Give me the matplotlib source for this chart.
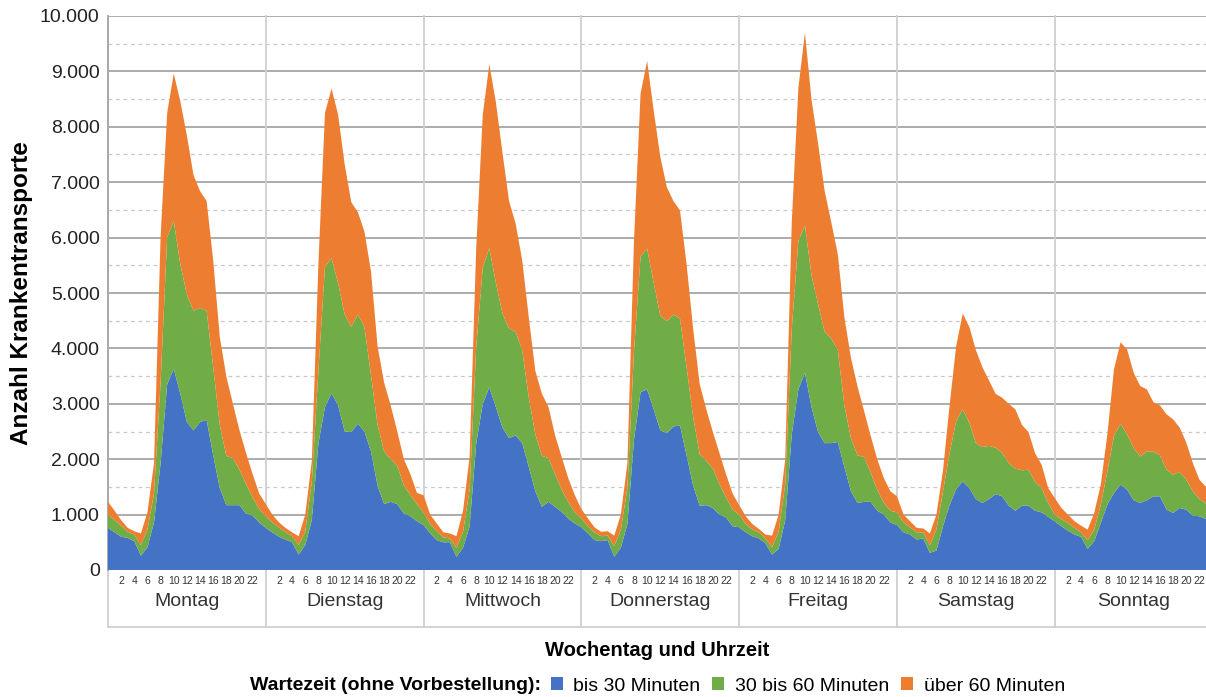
import matplotlib
matplotlib.use("Agg")
import matplotlib.pyplot as plt
import matplotlib.transforms as mtransforms
from matplotlib.patches import Patch
import numpy as np

plt.rcParams['font.family'] = ['Liberation Sans', 'DejaVu Sans']

# Wochentage und Stunden
tage = ['Montag', 'Dienstag', 'Mittwoch', 'Donnerstag', 'Freitag', 'Samstag', 'Sonntag']
stunden_labels = [str(h) for h in range(2, 23, 2)]

# Wartezeit bis 30 Minuten (je Tag 24 Stundenwerte)
bis_30 = [
    760, 680, 600, 580, 520, 260, 410, 860, 1930, 3350, 3630, 3180, 2670, 2520, 2670, 2710, 2070, 1480, 1170, 1170, 1170, 1020, 980, 860,
    760, 680, 600, 550, 500, 280, 450, 900, 2280, 2940, 3190, 2970, 2500, 2490, 2640, 2500, 2140, 1520, 1190, 1230, 1190, 1020, 970, 880,
    810, 660, 540, 500, 500, 240, 400, 790, 2280, 3000, 3300, 2940, 2570, 2380, 2430, 2290, 1860, 1420, 1140, 1230, 1140, 1050, 930, 840,
    770, 660, 540, 520, 540, 240, 400, 830, 2350, 3210, 3260, 2900, 2520, 2470, 2590, 2610, 2070, 1520, 1160, 1170, 1120, 1000, 950, 790,
    770, 680, 610, 570, 480, 280, 380, 900, 2450, 3260, 3560, 2940, 2490, 2290, 2290, 2310, 1860, 1420, 1210, 1230, 1230, 1070, 1000, 860,
    810, 680, 640, 550, 570, 310, 350, 790, 1170, 1460, 1600, 1480, 1280, 1210, 1280, 1370, 1330, 1160, 1070, 1160, 1160, 1070, 1040, 960,
    880, 790, 710, 640, 600, 380, 520, 850, 1180, 1390, 1540, 1450, 1260, 1210, 1260, 1330, 1330, 1090, 1030, 1120, 1090, 980, 970, 920,
]

# Wartezeit 30 bis 60 Minuten
bis_60 = [
    240, 220, 200, 110, 120, 190, 320, 520, 1450, 2660, 2670, 2340, 2300, 2160, 2060, 1970, 1590, 1140, 890, 850, 640, 530, 330, 240,
    210, 180, 170, 130, 110, 170, 240, 690, 1310, 2530, 2440, 2210, 2110, 1900, 1970, 1890, 1380, 1100, 950, 770, 690, 510, 380, 310,
    230, 170, 160, 90, 70, 160, 290, 660, 1730, 2460, 2510, 2240, 2060, 1980, 1870, 1680, 1250, 1030, 920, 790, 590, 400, 300, 200,
    160, 130, 140, 90, 80, 190, 330, 650, 1590, 2450, 2540, 2280, 2070, 2020, 2020, 1930, 1590, 1240, 930, 800, 710, 550, 360, 300,
    230, 150, 120, 110, 90, 130, 310, 650, 1900, 2680, 2660, 2380, 2310, 2010, 1890, 1660, 1110, 960, 860, 810, 530, 380, 210, 210,
    230, 180, 130, 130, 110, 140, 380, 630, 940, 1230, 1300, 1180, 1010, 1010, 960, 840, 780, 770, 760, 640, 650, 520, 440, 250,
    120, 130, 140, 120, 80, 160, 210, 330, 600, 1030, 1100, 1000, 940, 840, 880, 810, 740, 720, 690, 650, 540, 440, 310, 280,
]

# Wartezeit über 60 Minuten
ueber_60 = [
    230, 170, 100, 70, 60, 210, 310, 550, 2630, 2240, 2660, 2940, 2870, 2450, 2110, 1980, 1930, 1590, 1430, 980, 710, 560, 420, 280,
    220, 140, 90, 80, 70, 160, 310, 380, 1930, 2780, 3060, 3040, 2710, 2250, 1850, 1720, 1870, 1420, 1240, 970, 620, 470, 380, 200,
    310, 170, 140, 90, 90, 210, 380, 590, 1790, 2760, 3320, 3260, 2900, 2300, 1950, 1620, 1450, 1140, 1120, 920, 700, 590, 430, 310,
    170, 140, 90, 80, 80, 190, 270, 450, 2000, 2940, 3390, 3110, 2870, 2420, 2050, 1950, 1860, 1590, 1260, 930, 660, 560, 420, 290,
    170, 140, 100, 60, 70, 210, 310, 450, 1930, 2760, 3480, 3170, 2900, 2540, 2100, 1730, 1590, 1450, 1240, 830, 660, 550, 450, 350,
    290, 140, 110, 80, 70, 210, 270, 380, 860, 1350, 1730, 1730, 1680, 1440, 1180, 970, 1000, 1070, 1070, 820, 680, 520, 420, 270,
    300, 200, 150, 120, 120, 190, 300, 360, 670, 1200, 1470, 1530, 1360, 1270, 1120, 890, 900, 1000, 1000, 800, 670, 510, 350, 300,
]

serien_namen = ['bis 30 Minuten', '30 bis 60 Minuten', 'über 60 Minuten']
farben = ['#4472C4', '#70AD47', '#ED7D31']

x = np.arange(len(bis_30))

fig = plt.figure(figsize=(12.06, 6.97), dpi=100)
ax = fig.add_axes([108 / 1206, 1 - 570 / 697, 1098 / 1206, 554 / 697])

ax.stackplot(x, bis_30, bis_60, ueber_60, colors=farben, linewidth=0, zorder=3)

ax.set_xlim(0, len(x) - 1)
ax.set_ylim(0, 10000)

# Gitterlinien
ax.set_yticks(np.arange(0, 10001, 1000))
ax.set_yticks(np.arange(500, 10000, 1000), minor=True)
ax.set_yticklabels([f'{v:,}'.replace(',', '.') for v in range(0, 10001, 1000)], fontsize=14, color='#222222')
ax.tick_params(axis='y', which='both', length=0, pad=6)
ax.grid(axis='y', which='major', color='#A6A6A6', linewidth=1.3, zorder=1)
ax.grid(axis='y', which='minor', color='#C8C8C8', linewidth=0.9, linestyle=(0, (3, 3)), zorder=1)

for s in ['top', 'right', 'bottom']:
    ax.spines[s].set_visible(False)
ax.spines['left'].set_color('#A6A6A6')
ax.spines['left'].set_linewidth(1.3)

# Stunden-Ticks je Tag
tick_pos = []
tick_lab = []
for d in range(len(tage)):
    for h in range(2, 23, 2):
        tick_pos.append(d * 24 + h)
        tick_lab.append(str(h))
ax.set_xticks(tick_pos)
ax.set_xticklabels(tick_lab, fontsize=7.5, color='#333333')
ax.tick_params(axis='x', length=0, pad=4)

# Trennlinien und Tagesnamen
trans = mtransforms.blended_transform_factory(ax.transData, ax.transAxes)
unten = -57 / 554
for d in range(len(tage)):
    ax.plot([d * 24, d * 24], [unten, 1], transform=trans, color='#D0D0D0',
            linewidth=1.3, clip_on=False, zorder=2)
    ax.text(d * 24 + 12, -31 / 554, tage[d], transform=trans, ha='center', va='center',
            fontsize=14, color='#333333')
ax.plot([0, len(x) - 1], [unten, unten], transform=trans, color='#D0D0D0',
        linewidth=1.3, clip_on=False)

ax.set_ylabel('Anzahl Krankentransporte', fontsize=17.5, fontweight='bold')
ax.yaxis.set_label_coords((33 - 108) / 1098, 0.5)
fig.text(657 / 1206, 1 - 650 / 697, 'Wochentag und Uhrzeit', ha='center', va='center',
         fontsize=14.5, fontweight='bold')

# Legende
fig.text(541 / 1206, 1 - 686 / 697, 'Wartezeit (ohne Vorbestellung):', ha='right', va='center',
         fontsize=14, fontweight='bold')
handles = [Patch(facecolor=c, edgecolor='none') for c in farben]
fig.legend(handles, serien_namen, loc='center left', bbox_to_anchor=(541 / 1206, 1 - 686 / 697),
           ncol=3, frameon=False, fontsize=14, handlelength=0.62, handleheight=0.62,
           handletextpad=0.55, columnspacing=0.6, borderpad=0)

fig.savefig('out.png', dpi=100)
